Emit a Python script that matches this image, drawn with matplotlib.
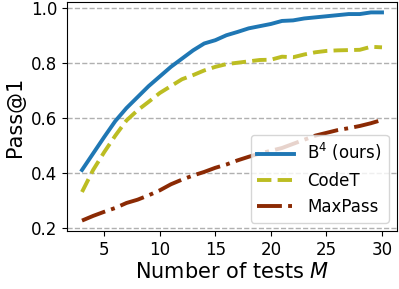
import matplotlib
matplotlib.use("Agg")
import matplotlib.pyplot as plt

tests = list(range(3, 31))
b4 = [0.41, 0.47, 0.53, 0.588, 0.635, 0.675, 0.715, 0.75, 0.785, 0.815, 0.845, 0.87,
      0.882, 0.90, 0.912, 0.925, 0.933, 0.941, 0.952, 0.954, 0.961, 0.965, 0.969,
      0.973, 0.977, 0.977, 0.983, 0.983]
codet = [0.33, 0.41, 0.475, 0.535, 0.59, 0.627, 0.658, 0.69, 0.715, 0.74, 0.755, 0.772,
         0.785, 0.795, 0.80, 0.805, 0.81, 0.811, 0.822, 0.82, 0.83, 0.838, 0.843,
         0.845, 0.846, 0.847, 0.858, 0.856]
maxpass = [0.226, 0.243, 0.258, 0.272, 0.29, 0.302, 0.318, 0.336, 0.358, 0.375, 0.39,
           0.403, 0.418, 0.43, 0.445, 0.458, 0.47, 0.48, 0.49, 0.505, 0.52, 0.535,
           0.545, 0.555, 0.562, 0.57, 0.58, 0.592]
yticks = [0.2, 0.4, 0.6, 0.8, 1.0]
xticks = [5, 10, 15, 20, 25, 30]

fig = plt.figure(figsize=(3.99, 2.89), dpi=100)
ax = fig.add_axes([67/399, 1 - 231/289, 330/399, 229/289])
ax.plot(tests, b4, color='#1f77b4', lw=2.8, linestyle='-', label='B$^4$ (ours)')
ax.plot(tests, codet, color='#bcbd22', lw=2.8, linestyle='--', label='CodeT')
ax.plot(tests, maxpass, color='#8b2a04', lw=2.8, linestyle='-.', label='MaxPass')
ax.set_yticks(yticks)
ax.set_xticks(xticks)
ax.tick_params(labelsize=12)
ax.yaxis.grid(True, linestyle='--', color='#b0b0b0', lw=1)
ax.set_axisbelow(True)
ax.set_xlabel('Number of tests $M$', fontsize=15, labelpad=2)
ax.set_ylabel('Pass@1', fontsize=15, labelpad=4)
ax.legend(loc='lower right', fontsize=12, handlelength=2.2)
fig.savefig('out.png', dpi=100)
